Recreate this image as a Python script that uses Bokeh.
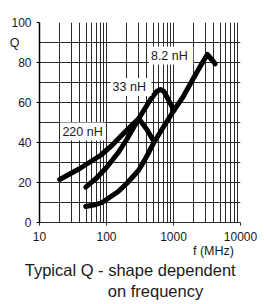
from bokeh.plotting import figure
from bokeh.models import FixedTicker, Label, Range1d, LogAxis, LinearAxis
from bokeh.embed import file_html
from bokeh.resources import INLINE

# ---- data ----
f_220 = [20, 40, 81, 120, 162, 220, 303, 400, 510]
q_220 = [21.5, 27, 33.5, 38.5, 43, 47.5, 52, 46.5, 40.5]

f_33 = [49, 70, 100, 150, 200, 303, 454, 560, 640, 720, 850, 1010]
q_33 = [17.7, 22, 27.5, 35, 41.5, 52, 61.5, 65.5, 66.5, 65.5, 61, 56]

f_82 = [49, 70, 86, 100, 150, 200, 300, 380, 510, 700, 1010, 1400, 1900, 2500, 3200, 3600, 4200]
q_82 = [8, 9, 10, 11.5, 15.5, 19.5, 26, 31.8, 40, 47.5, 56, 63, 71, 78, 84, 82, 79.3]

x_ticks = [10, 100, 1000, 10000]
x_tick_labels = ["10", "100", "1000", "10000"]
y_ticks = [0, 20, 40, 60, 80, 100]
series_labels = ["220 nH", "33  nH", "8.2  nH"]
y_title = "Q"
x_title = "f (MHz)"
caption = ["Typical Q - shape dependent", "on frequency"]

FONT = "Liberation Sans"
INK = "#1a1a1a"

p = figure(width=264, height=304, x_axis_type="log",
           x_range=Range1d(10, 10000), y_range=Range1d(0, 100),
           output_backend="svg", toolbar_location=None,
           min_border_left=39, min_border_right=24,
           min_border_top=22, min_border_bottom=82)
p.outline_line_color = None
p.background_fill_color = "white"
p.border_fill_color = "white"

# grid
xgrid_ticks = [m * 10 ** k for k in range(1, 4) for m in range(1, 10)] + [10000]
p.xgrid.ticker = FixedTicker(ticks=xgrid_ticks)
p.ygrid.ticker = FixedTicker(ticks=list(range(0, 101, 10)))
for g in (p.xgrid, p.ygrid):
    g.grid_line_color = "#2a2a2a"
    g.grid_line_width = 1
    g.grid_line_alpha = 1

# x axis
xa = p.xaxis[0]
xa.ticker = FixedTicker(ticks=x_ticks)
xa.major_label_overrides = {t: s for t, s in zip(x_ticks, x_tick_labels)}
xa.major_tick_out = 3
xa.major_tick_in = 0
xa.minor_tick_out = 0
xa.minor_tick_in = 0
xa.axis_line_color = "#2a2a2a"
xa.major_tick_line_color = "#2a2a2a"
xa.major_label_text_font = FONT
xa.major_label_text_font_size = "12px"
xa.major_label_text_color = INK
xa.major_label_standoff = 6

# y axis
ya = p.yaxis[0]
ya.ticker = FixedTicker(ticks=y_ticks)
ya.major_tick_out = 3
ya.major_tick_in = 0
ya.minor_tick_out = 0
ya.minor_tick_in = 0
ya.axis_line_color = "black"
ya.axis_line_width = 1.5
ya.major_tick_line_color = "black"
ya.major_label_text_font = FONT
ya.major_label_text_font_size = "12px"
ya.major_label_text_color = INK
ya.major_label_standoff = 5


def text_axis(kind, pos, text, size, standoff, side):
    ax = kind(ticker=FixedTicker(ticks=[pos]),
              major_label_overrides={pos: text},
              axis_line_color=None, major_tick_line_color=None,
              minor_tick_line_color=None,
              major_tick_out=0, major_tick_in=0,
              minor_tick_out=0, minor_tick_in=0,
              major_label_standoff=standoff,
              major_label_text_font=FONT,
              major_label_text_font_size=size,
              major_label_text_color=INK)
    p.add_layout(ax, side)
    return ax


# "Q" beside the y axis
text_axis(LinearAxis, 90, y_title, "12.5px", -11, "left")
# "f (MHz)" and the two caption lines below the x axis
text_axis(LogAxis, 3955, x_title, "12.5px", 0, "below")
text_axis(LogAxis, 226, caption[0], "16.5px", 0, "below")
text_axis(LogAxis, 539, caption[1], "16.5px", 0, "below")

# curves
for fx, qy in ((f_220, q_220), (f_33, q_33), (f_82, q_82)):
    p.line(fx, qy, line_color="black", line_width=5,
           line_cap="round", line_join="round")

# curve labels
label_pos = [(20.5, 45.5), (115, 67.8), (430, 83.5)]
for (lx, ly), txt in zip(label_pos, series_labels):
    p.add_layout(Label(x=lx, y=ly, text=txt, text_font=FONT,
                       text_font_size="12.5px", text_color=INK,
                       text_baseline="middle", text_align="left",
                       background_fill_color="white", padding=2))

open("out.html", "w").write(file_html(p, INLINE))
